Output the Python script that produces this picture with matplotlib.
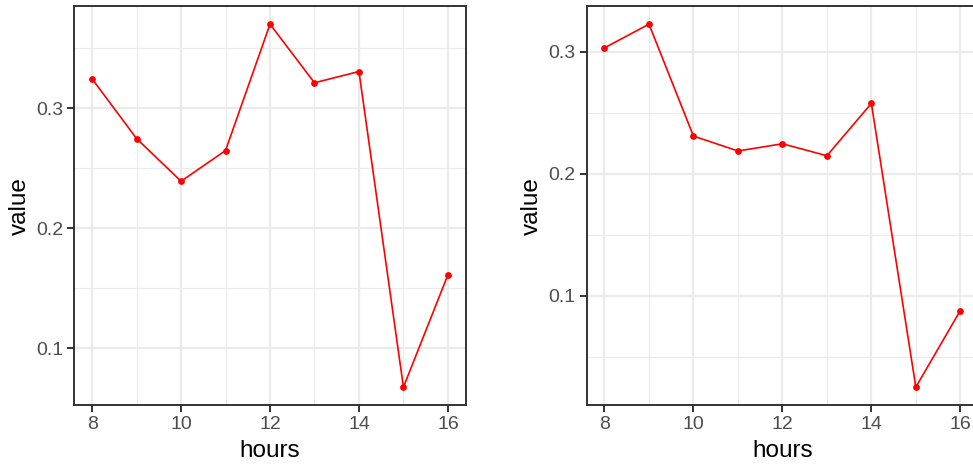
import matplotlib
matplotlib.use("Agg")
import matplotlib.pyplot as plt
from matplotlib.ticker import MultipleLocator

plt.rcParams['font.family'] = ['Liberation Sans', 'DejaVu Sans']

hours = [8, 9, 10, 11, 12, 13, 14, 15, 16]
value_left = [0.3245, 0.2747, 0.2391, 0.2647, 0.3701, 0.3212, 0.3306, 0.0674, 0.1611]
value_right = [0.3030, 0.3224, 0.2308, 0.2186, 0.2245, 0.2147, 0.2575, 0.0253, 0.0880]

W, H = 973, 465
fig = plt.figure(figsize=(W / 100, H / 100), dpi=100)

def add_panel(left_px, values):
    top_px, bottom_px = 6, 405.3
    width_px = 391.4
    ax = fig.add_axes([left_px / W, (H - bottom_px) / H, width_px / W, (bottom_px - top_px) / H])
    ax.set_facecolor('white')
    ax.plot(hours, values, color='#FF0000', lw=1.2, zorder=3)
    ax.scatter(hours, values, color='#FF0000', s=24, zorder=4, linewidths=0)
    lo, hi = min(values), max(values)
    pad = (hi - lo) * 0.05
    ax.set_ylim(lo - pad, hi + pad)
    ax.set_xlim(8 - 0.4, 16 + 0.4)
    ax.xaxis.set_major_locator(MultipleLocator(2))
    ax.xaxis.set_minor_locator(MultipleLocator(1))
    ax.yaxis.set_major_locator(MultipleLocator(0.1))
    ax.yaxis.set_minor_locator(MultipleLocator(0.05))
    ax.set_yticks([0.1, 0.2, 0.3])
    ax.set_yticklabels(['0.1', '0.2', '0.3'])
    ax.grid(which='major', color='#EBEBEB', lw=1.6, zorder=0)
    ax.grid(which='minor', color='#EBEBEB', lw=0.8, zorder=0)
    ax.set_axisbelow(True)
    for s in ax.spines.values():
        s.set_color('#333333')
        s.set_linewidth(1.4)
    ax.tick_params(which='major', length=5, width=1.4, color='#333333',
                   labelcolor='#4D4D4D', labelsize=14, pad=3)
    ax.tick_params(which='minor', length=0)
    ax.set_xlabel('hours', fontsize=17.5, color='black', labelpad=5)
    ax.set_ylabel('value', fontsize=17.5, color='black', labelpad=4)
    return ax

ax1 = add_panel(74.3, value_left)
ax2 = add_panel(586.7, value_right)

fig.savefig('out.png', dpi=100, facecolor='white')
